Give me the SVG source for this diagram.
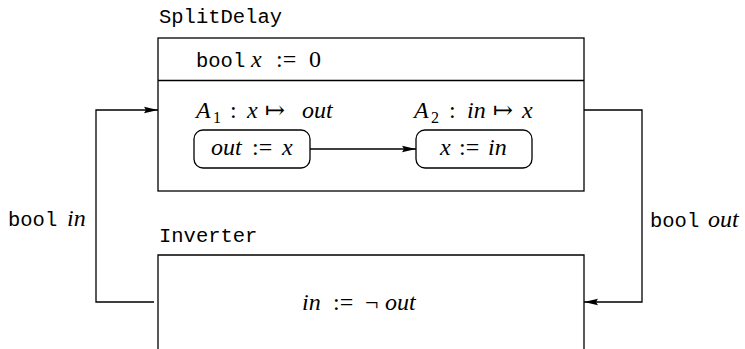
<svg xmlns="http://www.w3.org/2000/svg" width="745" height="349" viewBox="0 0 745 349">
<style>
.box{fill:#fff;stroke:#000;stroke-width:1.3}
.ln{fill:none;stroke:#000;stroke-width:1.3}
.mono{font-family:"Liberation Mono","DejaVu Sans Mono",monospace;font-size:20.5px;fill:#000}
.m{font-family:"Liberation Serif","Times New Roman","DejaVu Serif",serif;font-size:24px;fill:#000}
.i{font-style:italic}
.sub{font-size:16px}
.c{text-anchor:middle}
</style>
<defs>
<marker id="ah" markerWidth="14" markerHeight="8" refX="14" refY="4" orient="auto" markerUnits="userSpaceOnUse">
<path d="M0,0.8 L14,4 L0,7.2 L2,4 Z" fill="#000"/>
</marker>
</defs>
<g id="SplitDelay">
<text class="mono" x="159" y="23">SplitDelay</text>
<rect class="box" x="158" y="38" width="426" height="153"/>
<line class="ln" x1="158" y1="80.5" x2="584" y2="80.5"/>
<text class="mono" x="196" y="67">bool</text>
<text class="m i" x="251" y="67">x</text>
<text class="m" x="276" y="67">:=</text>
<text class="m" x="309" y="67">0</text>
<text class="m i" x="196" y="118">A</text>
<text class="m sub" x="213" y="123">1</text>
<text class="m" x="230" y="118">:</text>
<text class="m i" x="247" y="118">x</text>
<text class="m c" x="275" y="118">↦</text>
<text class="m i" x="302" y="118">out</text>
<text class="m i" x="414" y="118">A</text>
<text class="m sub" x="431" y="123">2</text>
<text class="m" x="449" y="118">:</text>
<text class="m i" x="467" y="118">in</text>
<text class="m c" x="503" y="118">↦</text>
<text class="m i" x="522" y="118">x</text>
</g>
<g id="A1">
<rect class="box" x="194" y="130" width="116" height="38" rx="9"/>
<text class="m i" x="211" y="155">out</text>
<text class="m" x="252" y="155">:=</text>
<text class="m i" x="282" y="155">x</text>
</g>
<g id="A2">
<rect class="box" x="416" y="130" width="116" height="38" rx="9"/>
<text class="m i" x="440" y="155">x</text>
<text class="m" x="459" y="155">:=</text>
<text class="m i" x="488" y="155">in</text>
</g>
<g id="Inverter">
<text class="mono" x="159" y="242">Inverter</text>
<path class="ln" d="M158,360 V255 H584 V360"/>
<text class="m i" x="302" y="310">in</text>
<text class="m" x="333" y="310">:=</text>
<text class="m" x="365" y="310">¬</text>
<text class="m i" x="385" y="310">out</text>
</g>
<g id="connectors">
<path class="ln" d="M310,149 H416" marker-end="url(#ah)"/>
<path class="ln" d="M154,302 H96 V110 H158" marker-end="url(#ah)"/>
<path class="ln" d="M584,110 H642 V302 H584" marker-end="url(#ah)"/>
<text class="mono" x="8" y="226">bool</text>
<text class="m i" x="67" y="226">in</text>
<text class="mono" x="650" y="227">bool</text>
<text class="m i" x="708" y="227">out</text>
</g>
</svg>
